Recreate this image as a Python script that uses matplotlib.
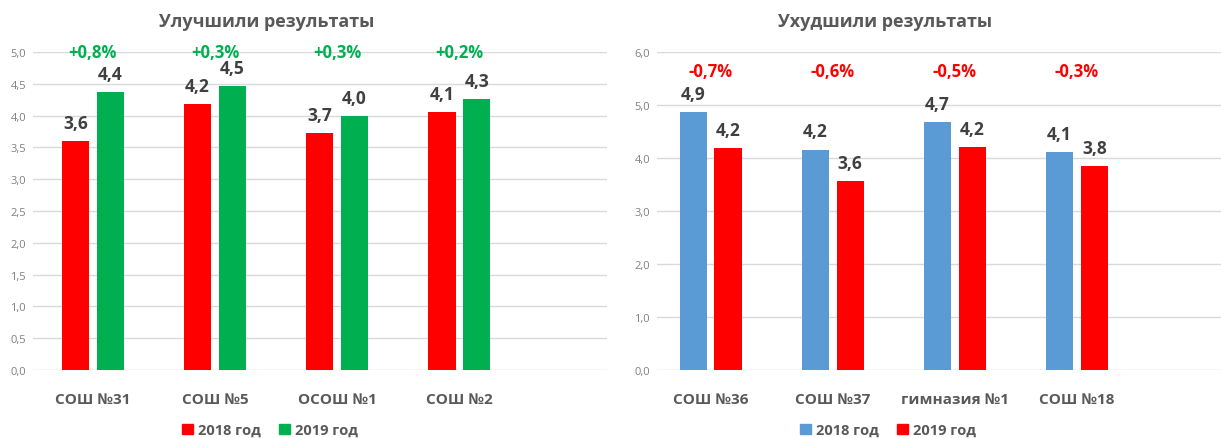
import matplotlib.pyplot as plt
from matplotlib.patches import Patch
import numpy as np

plt.rcParams['font.family'] = ['Open Sans', 'DejaVu Sans']

# school scores, 2018 vs 2019
up_schools = ['СОШ №31', 'СОШ №5', 'ОСОШ №1', 'СОШ №2']
up_2018 = [3.60, 4.18, 3.73, 4.06]
up_2019 = [4.37, 4.47, 4.00, 4.26]

down_schools = ['СОШ №36', 'СОШ №37', 'гимназия №1', 'СОШ №18']
down_2018 = [4.87, 4.16, 4.68, 4.12]
down_2019 = [4.19, 3.57, 4.21, 3.84]

years = ['2018 год', '2019 год']

RED = '#FF0000'
GREEN = '#00B050'
BLUE = '#5B9BD5'
DARK = '#404040'
MID = '#595959'
GRID = '#D9D9D9'


def fmt(v):
    return f'{v:.1f}'.replace('.', ',')


def draw_panel(ax, names, first, second, colors, ymax, step, delta_y, delta_color,
               xlim):
    x = np.arange(len(names))
    w = 0.225
    off = 0.143
    b1 = ax.bar(x - off, first, w, color=colors[0], zorder=3)
    b2 = ax.bar(x + off, second, w, color=colors[1], zorder=3)
    for bars in (b1, b2):
        for rect in bars:
            h = rect.get_height()
            ax.annotate(fmt(h), (rect.get_x() + rect.get_width() / 2, h),
                        xytext=(0, 6.5), textcoords='offset points',
                        ha='center', va='bottom', fontsize=12.5,
                        fontweight='bold', color=DARK)
    for i in range(len(names)):
        d = second[i] - first[i]
        sign = '+' if d > 0 else '-'
        ax.text(x[i], delta_y, f'{sign}{fmt(abs(d))}%', ha='center', va='center',
                fontsize=12, fontweight='bold', color=delta_color)

    ax.set_xlim(*xlim)
    ax.set_ylim(0, ymax)
    ax.set_yticks(np.arange(0, ymax + 0.001, step))
    ax.set_yticklabels([fmt(t) for t in np.arange(0, ymax + 0.001, step)])
    ax.set_xticks(x)
    ax.set_xticklabels(names, fontsize=11, fontweight='bold', color=MID)
    ax.tick_params(axis='y', length=0, labelsize=8, labelcolor='#808080', pad=5)
    ax.tick_params(axis='x', length=0, pad=16)
    ax.yaxis.grid(True, color=GRID, linewidth=1, zorder=0)
    ax.set_axisbelow(True)
    for s in ax.spines.values():
        s.set_visible(False)


fig = plt.figure(figsize=(12.21, 4.39), dpi=100)
ax1 = fig.add_axes([33 / 1221, 1 - 371 / 439, (607 - 33) / 1221, (371 - 53) / 439])
ax2 = fig.add_axes([657 / 1221, 1 - 371 / 439, (1221 - 657) / 1221, (371 - 53) / 439])

draw_panel(ax1, up_schools, up_2018, up_2019, (RED, GREEN), 5.0, 0.5, 5.0, GREEN,
           (-0.49, 4.21))
draw_panel(ax2, down_schools, down_2018, down_2019, (BLUE, RED), 6.0, 1.0, 5.64, RED,
           (-0.44, 4.18))

fig.text(267 / 1221, 1 - 22 / 439, 'Улучшили результаты', ha='center', va='center',
         fontsize=13, fontweight='bold', color=MID)
fig.text(885 / 1221, 1 - 22 / 439, 'Ухудшили результаты', ha='center', va='center',
         fontsize=13, fontweight='bold', color=MID)

for ax, cols, cx in ((ax1, (RED, GREEN), 270), (ax2, (BLUE, RED), 888)):
    handles = [Patch(color=c, label=lab) for c, lab in zip(cols, years)]
    fig.legend(handles=handles, loc='center', ncol=2,
               bbox_to_anchor=(cx / 1221, 1 - 431 / 439), frameon=False,
               handlelength=0.75, handleheight=0.75, handletextpad=0.3,
               columnspacing=1.3, prop={'size': 10.5, 'weight': 'bold'},
               labelcolor=MID, borderpad=0)

fig.savefig('out.png', dpi=100)
